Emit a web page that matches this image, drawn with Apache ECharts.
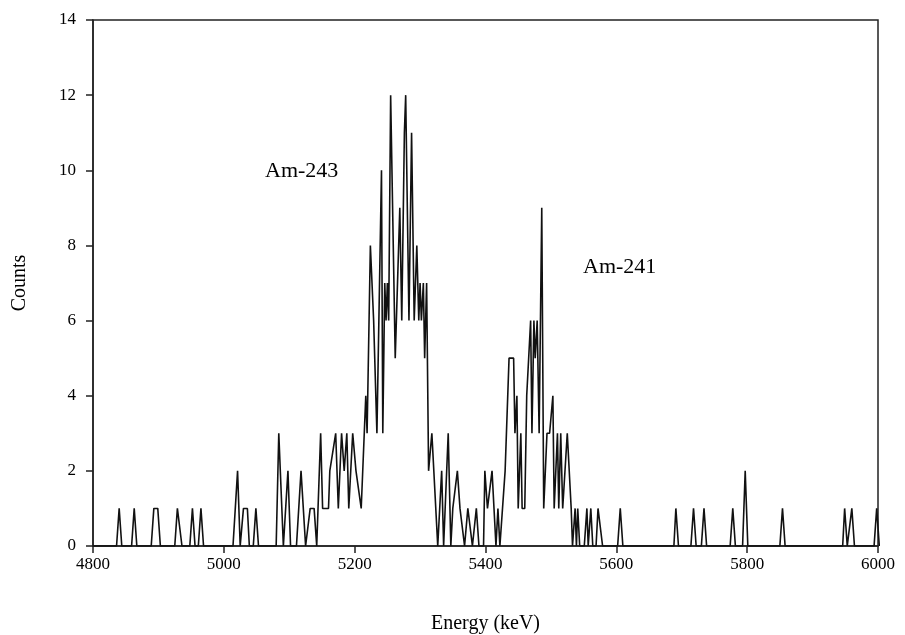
<!DOCTYPE html>
<html>
<head>
<meta charset="utf-8">
<script src="https://cdn.jsdelivr.net/npm/echarts@6/dist/echarts.min.js"></script>
<style>
  html, body { margin: 0; padding: 0; background: #fff; }
  #box { width: 905px; height: 635px; }
</style>
</head>
<body>
<div id="box"></div>
<script>
// vertices of the spectrum trace, energy in keV
var energy = [
  4800, 4836, 4840, 4844, 4859, 4863, 4867, 4889, 4893, 4899, 4903, 4925, 4929, 4932, 4936,
  4948, 4952, 4956, 4961, 4965, 4969, 5014, 5021, 5025, 5027, 5030, 5036, 5039, 5045, 5049, 5053,
  5080, 5084, 5091, 5098, 5102, 5111, 5118, 5125, 5128, 5132, 5138, 5142, 5148, 5151, 5160,
  5162, 5165, 5171, 5175, 5180, 5184, 5188, 5191, 5197, 5202, 5205, 5210, 5213, 5217, 5219,
  5224, 5229, 5234, 5241, 5243, 5246, 5248, 5250, 5252, 5255, 5262, 5264, 5269, 5272, 5276,
  5278, 5281, 5283, 5287, 5291, 5295, 5298, 5300, 5302, 5305, 5307, 5310, 5313, 5315, 5318,
  5320, 5327, 5333, 5336, 5343, 5347, 5350, 5353, 5357, 5361, 5364, 5368, 5373, 5376, 5380,
  5383, 5386, 5390, 5397, 5399, 5403, 5406, 5410, 5413, 5416, 5419, 5422, 5424, 5430, 5433,
  5436, 5443, 5445, 5448, 5450, 5454, 5456, 5460, 5463, 5466, 5469, 5471, 5474, 5476, 5479,
  5482, 5486, 5489, 5494, 5498, 5503, 5505, 5510, 5512, 5515, 5518, 5520, 5525, 5531, 5533,
  5537, 5539, 5541, 5544, 5551, 5555, 5557, 5559, 5561, 5564, 5569, 5572, 5575, 5579,
  5602, 5606, 5610, 5688, 5691, 5695, 5714, 5718, 5722, 5730, 5734, 5738, 5774, 5778, 5782,
  5793, 5797, 5801, 5850, 5854, 5858, 5946, 5949, 5953, 5956, 5960, 5964, 5994, 5998, 6002
];
var counts = [
  0, 0, 1, 0, 0, 1, 0, 0, 1, 1, 0, 0, 1, 1, 0,
  0, 1, 0, 0, 1, 0, 0, 2, 0, 0, 1, 1, 0, 0, 1, 0,
  0, 3, 0, 2, 0, 0, 2, 0, 0, 1, 1, 0, 3, 1, 1,
  2, 2, 3, 1, 3, 2, 3, 1, 3, 2, 2, 1, 1, 4, 3,
  8, 6, 3, 10, 3, 7, 6, 7, 6, 12, 5, 5, 9, 6, 11,
  12, 12, 6, 11, 6, 8, 6, 7, 6, 7, 5, 7, 2, 2, 3,
  3, 0, 2, 0, 3, 0, 1, 1, 2, 1, 1, 0, 1, 1, 0,
  0, 1, 0, 0, 2, 1, 1, 2, 1, 0, 1, 0, 0, 2, 2,
  5, 5, 3, 4, 1, 3, 1, 1, 4, 4, 6, 3, 6, 5, 6,
  3, 9, 1, 3, 3, 4, 1, 3, 1, 3, 1, 1, 3, 1, 0,
  1, 0, 1, 0, 0, 1, 0, 0, 1, 0, 0, 1, 1, 0,
  0, 1, 0, 0, 1, 0, 0, 1, 0, 0, 1, 0, 0, 1, 0,
  0, 2, 0, 0, 1, 0, 0, 1, 0, 0, 1, 0, 0, 1, 0
];
var xTicks = [4800, 5000, 5200, 5400, 5600, 5800, 6000];
var yTicks = [0, 2, 4, 6, 8, 10, 12, 14];
var peakLabels = ['Am-243', 'Am-241'];

var serif = '"Liberation Serif", "DejaVu Serif", serif';
var pts = [];
for (var i = 0; i < energy.length; i++) {
  pts.push([energy[i], counts[i]]);
}

var chart = echarts.init(document.getElementById('box'));
var option = {
  animation: false,
  backgroundColor: '#fff',
  grid: {
    left: 93, right: 27, top: 20, bottom: 89,
    outerBoundsMode: 'none', containLabel: false,
    show: true, borderColor: '#222', borderWidth: 1.5, backgroundColor: 'transparent'
  },
  xAxis: {
    type: 'value',
    min: xTicks[0], max: xTicks[xTicks.length - 1], interval: 200,
    name: 'Energy (keV)', nameLocation: 'middle', nameGap: 68,
    nameTextStyle: { fontFamily: serif, fontSize: 20, color: '#000' },
    axisLine: { show: true, lineStyle: { color: '#222', width: 1.5 } },
    axisTick: { show: true, inside: false, length: 7, lineStyle: { color: '#222', width: 1.5 } },
    axisLabel: {
      fontFamily: serif, fontSize: 17, color: '#000', margin: 10,
      formatter: function (v) { return String(v); }
    },
    splitLine: { show: false }
  },
  yAxis: {
    type: 'value',
    min: yTicks[0], max: yTicks[yTicks.length - 1], interval: 2,
    name: 'Counts', nameLocation: 'middle', nameGap: 63,
    nameTextStyle: { fontFamily: serif, fontSize: 20, color: '#000' },
    axisLine: { show: true, lineStyle: { color: '#222', width: 1.5 } },
    axisTick: { show: true, inside: false, length: 7, lineStyle: { color: '#222', width: 1.5 } },
    axisLabel: { fontFamily: serif, fontSize: 17, color: '#000', margin: 17 },
    splitLine: { show: false }
  },
  graphic: [
    { type: 'text', left: 265, top: 160, style: { text: peakLabels[0], font: '22px ' + serif, fill: '#000' } },
    { type: 'text', left: 583, top: 256, style: { text: peakLabels[1], font: '22px ' + serif, fill: '#000' } }
  ],
  series: [{
    type: 'line',
    data: pts,
    showSymbol: false,
    clip: true,
    lineStyle: { color: '#111', width: 1.6 }
  }]
};
chart.setOption(option);
</script>
</body>
</html>
